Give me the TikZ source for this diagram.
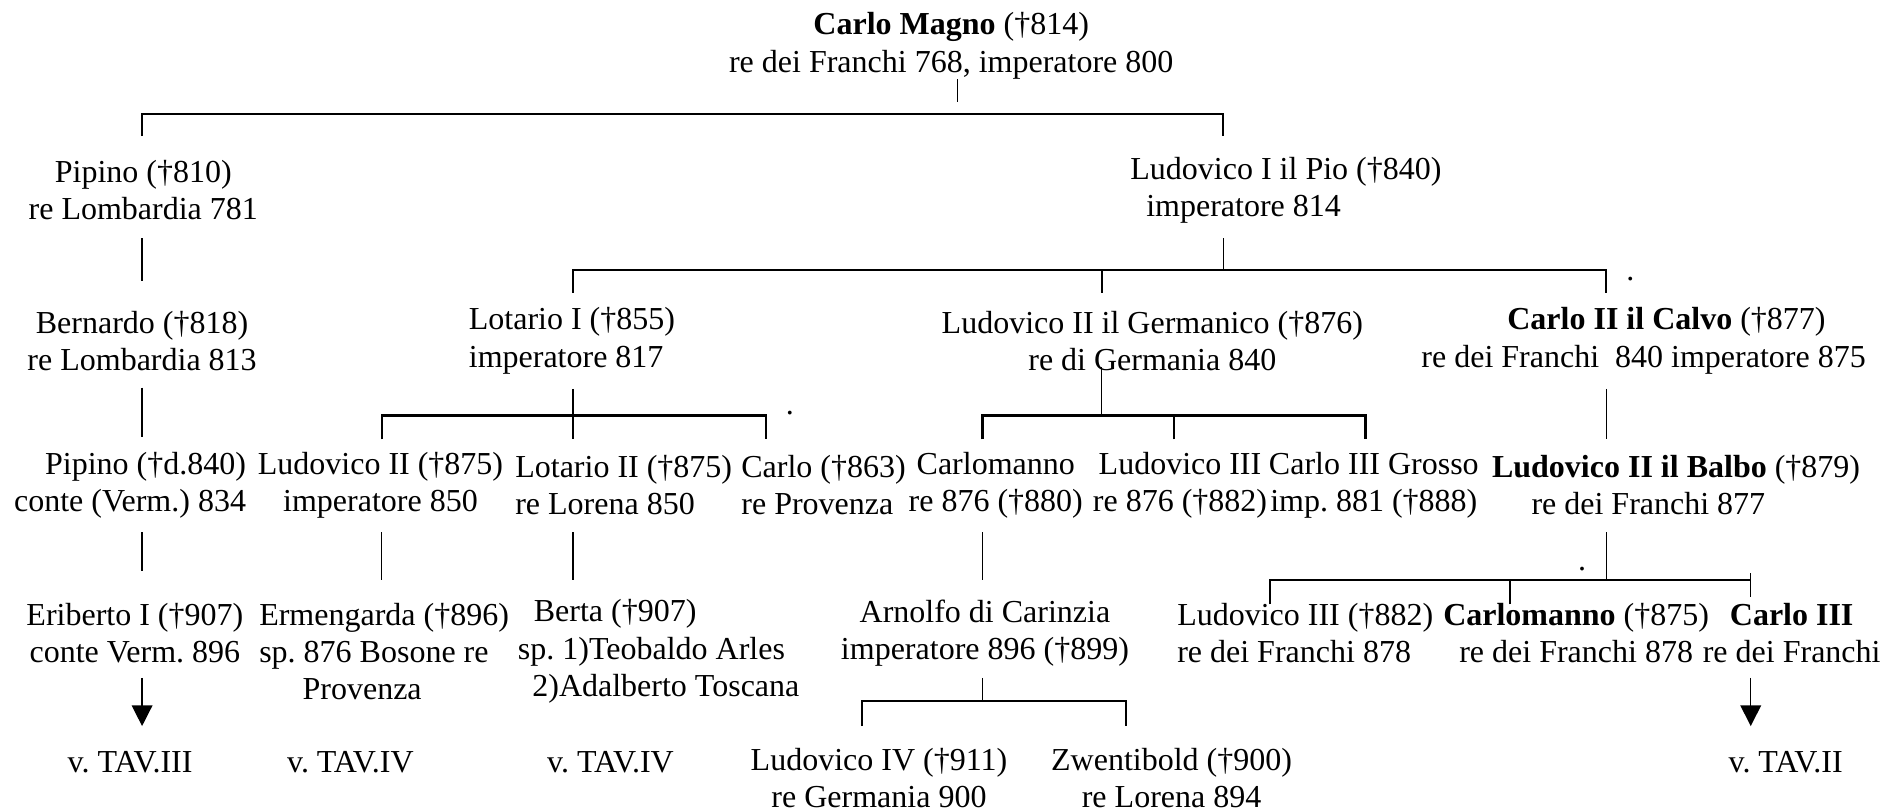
\documentclass[tikz,border=0pt]{standalone}
\usepackage{fontspec}
\setmainfont{Liberation Serif}
\usetikzlibrary{arrows.meta}
\begin{document}
\begin{tikzpicture}[x=0.025cm,y=-0.025cm,
	every node/.style={font=\fontsize{18.9}{22}\selectfont\frenchspacing, inner sep=0pt},
	person/.style={align=center},
	lperson/.style={align=left},
	rperson/.style={align=right},
	link/.style={line width=0.8pt},
	bar/.style={line width=1.3pt},
	ref/.style={line width=0.8pt,-{Triangle[length=4.3mm,width=4.3mm]}}]
	\useasboundingbox (0,0) rectangle (1568,674);
	
	% generazioni
	\node[person] (magno) at (790,38) {\textbf{Carlo Magno} (†814)\\re dei Franchi 768, imperatore 800};
	
	\node[person] (pipinoA) at (119,158) {Pipino (†810)\\re Lombardia 781};
	\node[lperson] (ludoPio) at (1068,158) {Ludovico I il Pio (†840)\\\hspace*{0.33cm}imperatore 814};
	
	\node[person] (bernardo) at (118,283) {Bernardo (†818)\\re Lombardia 813};
	\node[lperson] (lotarioI) at (475,283) {Lotario I (†855)\\imperatore 817};
	\node[person] (ludoGerm) at (957,283) {Ludovico II il Germanico (†876)\\re di Germania 840};
	\node[person] (carloCalvo) at (1365,283) {\hspace*{0.95cm}\textbf{Carlo II il Calvo} (†877)\\re dei Franchi\ \ 840 imperatore 875};
	
	\node[rperson] (pipinoB) at (108,403) {Pipino (†d.840)\\conte (Verm.) 834};
	\node[person] (ludoII) at (316,403) {Ludovico II (†875)\\imperatore 850};
	\node[lperson] (lotarioII) at (518,403) {Lotario II (†875)\\re Lorena 850};
	\node[lperson] (carloProv) at (684,403) {Carlo (†863)\\re Provenza};
	\node[person] (carlomannoA) at (827,403) {Carlomanno\\re 876 (†880)};
	\node[person] (ludoIIIa) at (980,403) {Ludovico III\\re 876 (†882)};
	\node[person] (carloGrosso) at (1141,403) {Carlo III Grosso\\imp. 881 (†888)};
	\node[person] (ludoBalbo) at (1392,403) {\textbf{Ludovico II il Balbo} (†879)\\re dei Franchi 877\hspace*{1.15cm}};
	
	\node[person] (eriberto) at (112,526) {Eriberto I (†907)\\conte Verm. 896};
	\node[lperson] (ermengarda) at (319,541) {Ermengarda (†896)\\sp. 876 Bosone re\\\hspace*{0.9cm}Provenza};
	\node[lperson] (berta) at (547,541) {\hspace*{0.33cm}Berta (†907)\\sp. 1)Teobaldo Arles\\\hspace*{0.3cm}2)Adalberto Toscana};
	\node[person] (arnolfo) at (818,526) {Arnolfo di Carinzia\\imperatore 896 (†899)};
	\node[lperson] (ludoIIIb) at (1084,526) {Ludovico III (†882)\\re dei Franchi 878};
	\node[person] (carlomannoB) at (1309,526) {\textbf{Carlomanno} (†875)\\re dei Franchi 878};
	\node[person] (carloIII) at (1488,526) {\textbf{Carlo III}\\re dei Franchi};
	
	\node (tavIII) at (108,633) {v. TAV.III};
	\node (tavIVa) at (291,633) {v. TAV.IV};
	\node (tavIVb) at (507,633) {v. TAV.IV};
	\node[person] (ludoIV) at (730,646) {Ludovico IV (†911)\\re Germania 900};
	\node[person] (zwentibold) at (973,646) {Zwentibold (†900)\\re Lorena 894};
	\node (tavII) at (1483,633) {v. TAV.II};
	
	% puntini sparsi
	\node (dotA) at (1354,232) {.};
	\node (dotB) at (656,343) {.};
	\node (dotC) at (1314,473) {.};
	
	% punti delle linee
	\coordinate (mTop) at (795,66);
	\coordinate (mBot) at (795,85);
	\coordinate (mBar) at (795,95);
	\coordinate (dPipinoA) at (118,113);
	\coordinate (dLudoPio) at (1016,113);
	
	\coordinate (pipTop) at (118,198);
	\coordinate (pipBot) at (118,233);
	\coordinate (pioTop) at (1016,198);
	\coordinate (pioBar) at (1016,224);
	\coordinate (dLotarioI) at (476,243);
	\coordinate (dLudoGerm) at (915,243);
	\coordinate (dCarloCalvo) at (1334,243);
	
	\coordinate (berTop) at (118,322);
	\coordinate (berBot) at (118,363);
	\coordinate (lotTop) at (476,323);
	\coordinate (lotBar) at (476,345);
	\coordinate (dLudoII) at (317,365);
	\coordinate (dLotarioII) at (476,365);
	\coordinate (dCarloProv) at (636,365);
	\coordinate (gerTop) at (915,305);
	\coordinate (gerBar) at (915,345);
	\coordinate (dCarlomannoA) at (816,365);
	\coordinate (dLudoIIIa) at (975,365);
	\coordinate (dCarloGrosso) at (1134,365);
	\coordinate (calTop) at (1334,323);
	\coordinate (calBot) at (1334,365);
	
	\coordinate (pibTop) at (118,442);
	\coordinate (pibBot) at (118,474);
	\coordinate (luiTop) at (317,442);
	\coordinate (luiBot) at (317,482);
	\coordinate (loiTop) at (476,442);
	\coordinate (loiBot) at (476,482);
	\coordinate (camTop) at (816,442);
	\coordinate (camBot) at (816,482);
	\coordinate (balTop) at (1334,442);
	\coordinate (balBar) at (1334,482);
	\coordinate (dLudoIIIb) at (1055,502);
	\coordinate (dCarlomannoB) at (1254,502);
	\coordinate (dCarloIII) at (1454,496);
	\coordinate (tickIII) at (1454,476);
	
	\coordinate (eriTop) at (118,563);
	\coordinate (eriTip) at (118,603);
	\coordinate (arnTop) at (816,563);
	\coordinate (arnBar) at (816,582);
	\coordinate (dLudoIV) at (716,603);
	\coordinate (dZwentibold) at (935,603);
	\coordinate (c3Top) at (1454,563);
	\coordinate (c3Tip) at (1454,603);
	
	% linee
	\draw[link] (mTop) -- (mBot);
	\draw[bar] (dPipinoA) |- (mBar) -| (dLudoPio);
	
	\draw[link] (pipTop) -- (pipBot);
	\draw[link] (pioTop) -- (pioBar);
	\draw[bar] (dLotarioI) |- (pioBar) -| (dCarloCalvo);
	\draw[bar] (dLudoGerm) -- (dLudoGerm |- pioBar);
	
	\draw[link] (berTop) -- (berBot);
	\draw[link] (lotTop) -- (lotBar);
	\draw[bar] (dLudoII) |- (lotBar) -| (dCarloProv);
	\draw[bar] (lotBar) -- (dLotarioII);
	\draw[link] (gerTop) -- (gerBar);
	\draw[bar] (dCarlomannoA) |- (gerBar) -| (dCarloGrosso);
	\draw[bar] (dLudoIIIa) -- (dLudoIIIa |- gerBar);
	\draw[link] (calTop) -- (calBot);
	
	\draw[link] (pibTop) -- (pibBot);
	\draw[link] (luiTop) -- (luiBot);
	\draw[link] (loiTop) -- (loiBot);
	\draw[link] (camTop) -- (camBot);
	\draw[link] (balTop) -- (balBar);
	\draw[bar] (dLudoIIIb) |- (balBar) -| (dCarloIII |- balBar);
	\draw[bar] (dCarlomannoB) -- (dCarlomannoB |- balBar);
	\draw[link] (tickIII) -- (dCarloIII);
	
	\draw[ref] (eriTop) -- (eriTip);
	\draw[link] (arnTop) -- (arnBar);
	\draw[bar] (dLudoIV) |- (arnBar) -| (dZwentibold);
	\draw[ref] (c3Top) -- (c3Tip);
\end{tikzpicture}
\end{document}
